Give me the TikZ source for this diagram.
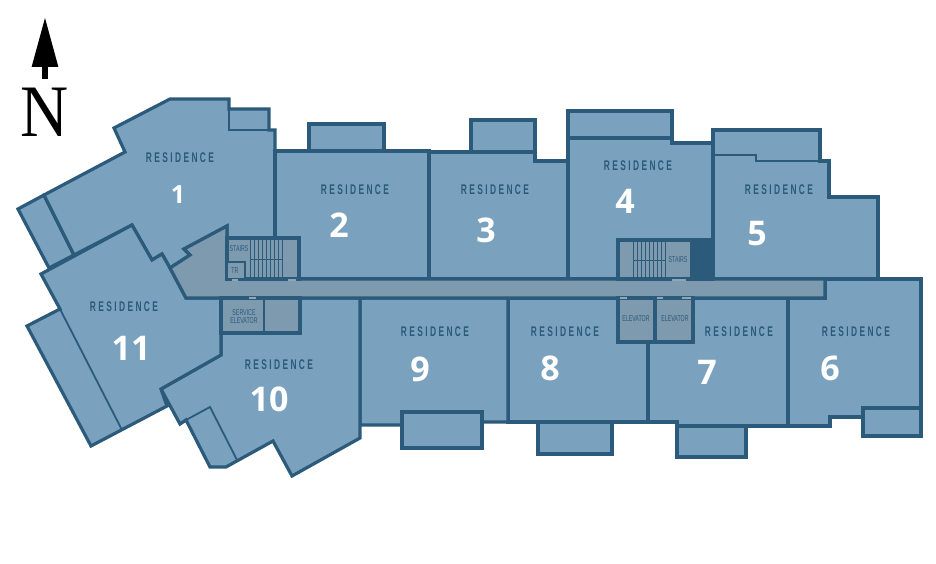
\documentclass[tikz,border=0pt]{standalone}
\usepackage{xcolor}
\usepackage{fontspec}
\usepackage{tikz}
\usetikzlibrary{arrows.meta}
\setmainfont{Liberation Serif}
\newfontfamily\planfont[FakeStretch=0.6,LetterSpace=17]{Liberation Sans}
\newfontfamily\tagfont[FakeStretch=0.62]{Liberation Sans}
\newfontfamily\numfont{Open Sans}
\definecolor{roomblue}{HTML}{7AA2BE}
\definecolor{wallblue}{HTML}{2B5A7A}
\definecolor{coregray}{HTML}{7E9AAF}
\definecolor{doorgray}{HTML}{8FA6B6}
\tikzstyle{room} = [fill=roomblue, draw=wallblue, line width=3.2pt, line join=miter]
\tikzstyle{core} = [fill=coregray, draw=wallblue, line width=3.2pt]
\tikzstyle{thinwall} = [draw=wallblue, line width=1.8pt]
\tikzstyle{tread} = [draw=wallblue, line width=0.6pt]
\tikzstyle{door} = [draw=doorgray, line width=2pt]
\tikzstyle{caption} = [text=wallblue, font=\planfont\bfseries\fontsize{14}{15}\selectfont, inner sep=0pt]
\tikzstyle{tag} = [text=wallblue, font=\tagfont\fontsize{8.5}{8.5}\selectfont, inner sep=0pt, align=center]
\tikzstyle{number} = [text=white, font=\numfont\bfseries\fontsize{34}{36}\selectfont, inner sep=0pt]
\begin{document}
\begin{tikzpicture}[x=1pt, y=-1pt]
	\useasboundingbox (0,0) rectangle (936,564);
	% balconies first
	\draw [room] (18,209) -- (44,195) -- (74,255) -- (49,268) -- cycle;
	\draw [room] (309,151) -- (309,124) -- (384,124) -- (384,151) -- cycle;
	\draw [room] (471,152) -- (471,120) -- (535,120) -- (535,152) -- cycle;
	\draw [room] (568,138) -- (568,111) -- (672,111) -- (672,138) -- cycle;
	% residences
	\draw [room] (114,128) -- (170,99) -- (229,99) -- (229,109) -- (269,109) -- (269,130) -- (275,130) -- (275,280) -- (227,280) -- (227,226) -- (184,249) -- (190,255) -- (170,268) -- (162,254) -- (152,260) -- (132,225) -- (74,255) -- (44,195) -- (125,152) -- cycle;
	\draw [room] (275,151) -- (429,151) -- (429,279) -- (275,279) -- cycle;
	\draw [room] (429,152) -- (535,152) -- (535,161) -- (568,161) -- (568,279) -- (429,279) -- cycle;
	\draw [room] (568,138) -- (672,138) -- (672,143) -- (713,143) -- (713,279) -- (568,279) -- cycle;
	\draw [room] (713,130) -- (820,130) -- (820,161) -- (829,161) -- (829,197) -- (878,197) -- (878,279) -- (713,279) -- cycle;
	\draw [room] (825,279) -- (921,279) -- (921,436) -- (863,436) -- (863,417) -- (830,417) -- (830,426) -- (788,426) -- (788,298) -- (825,298) -- cycle;
	\draw [room] (693,298) -- (788,298) -- (788,426) -- (677,426) -- (677,422) -- (648,422) -- (648,342) -- (693,342) -- cycle;
	\draw [room] (508,298) -- (618,298) -- (618,342) -- (648,342) -- (648,422) -- (508,422) -- cycle;
	\draw [room] (360,298) -- (508,298) -- (508,422) -- (482,422) -- (402,425) -- (360,425) -- cycle;
	\draw [room] (299,298) -- (360,298) -- (360,438) -- (292,476) -- (273,441) -- (226,467) -- (210,467) -- (186,420) -- (180,424) -- (161,389) -- (221,355) -- (221,333) -- (299,333) -- cycle;
	\draw [room] (41,274) -- (132,225) -- (152,260) -- (162,254) -- (170,268) -- (186,298) -- (221,298) -- (221,355) -- (161,389) -- (167,406) -- (91,446) -- (27,326) -- (60,309) -- cycle;
	% balconies on top of the lower walls
	\draw [room] (402,412) -- (482,412) -- (482,448) -- (402,448) -- cycle;
	\draw [room] (538,422) -- (612,422) -- (612,454) -- (538,454) -- cycle;
	\draw [room] (677,426) -- (746,426) -- (746,457) -- (677,457) -- cycle;
	\draw [room] (863,408) -- (921,408) -- (921,436) -- (863,436) -- cycle;
	\draw [thinwall] (60,309) -- (122,430);
	\draw [thinwall] (186,420) -- (210,407) -- (237,460);
	\draw [thinwall] (229,109) -- (229,130) -- (269,130);
	\draw [thinwall] (713,155) -- (756,155) -- (756,161) -- (820,161);
	% corridor and core
	\draw [core] (170,268) -- (190,255) -- (184,249) -- (227,226) -- (227,279) -- (825,279) -- (825,298) -- (186,298) -- cycle;
	\draw [core] (227,238) rectangle (299,279);
	\draw [core, line width=2.5pt] (227,262) rectangle (245,279);
	\draw [core] (221,298) rectangle (300,333);
	\draw [core] (618,240) rectangle (692,279);
	\draw [core] (618,298) rectangle (655,342);
	\draw [core] (655,298) rectangle (693,342);
	\draw [fill=wallblue, draw=wallblue, line width=3.2pt] (692,240) rectangle (713,279);
	\draw [thinwall] (264,298) -- (264,333);
	% stair treads
	\foreach \x in {250,254,...,283} {
		\draw [tread] (\x,240) -- (\x,278);
	}
	\foreach \x in {633,637,...,665} {
		\draw [tread] (\x,242) -- (\x,278);
	}
	\draw [tread] (250,259) -- (283,259);
	\draw [tread] (633,260) -- (665,260);
	% doors
	\draw [door] (232,280) -- (238,280);
	\draw [door] (288,280) -- (296,280);
	\draw [door] (249,298) -- (256,298);
	\draw [door] (672,280) -- (686,280);
	\draw [door] (620,298) -- (627,298);
	\draw [door] (682,298) -- (691,298);
	\draw [door] (657,298) -- (663,298);
	% labels
	\foreach \name/\x/\y in {1/180/158, 2/355/190, 3/495/190, 4/638/166, 5/779/190, 6/856/332, 7/739/332, 8/565/332, 9/435/332, 10/279/365, 11/124/307} {
		\node (Residence \name)[caption] at (\x,\y) {RESIDENCE};
	}
	\foreach \name/\x/\y in {2/339/225, 3/486/230, 4/625/201, 5/757/234, 6/830/368, 7/707/372, 8/550/368, 9/420/369, 10/269/399, 11/131/348} {
		\node (Number \name)[number] at (\x,\y) {\name};
	}
	\node (Number 1)[number, font=\numfont\bfseries\fontsize{25}{26}\selectfont] at (178,195) {1};
	\node (Stairs West)[tag] at (239,249) {STAIRS};
	\node (TR)[tag] at (235,271) {TR};
	\node (Service)[tag] at (244,316.5) {SERVICE\\ELEVATOR};
	\node (Stairs East)[tag] at (678,260) {STAIRS};
	\node (Elevator A)[tag] at (636,319) {ELEVATOR};
	\node (Elevator B)[tag] at (675,319) {ELEVATOR};
	% north mark
	\node (North)[inner sep=0pt, xscale=0.9, font=\fontsize{74}{74}\selectfont] at (45,112) {N};
	\coordinate (North Tip) at (45,17);
	\coordinate (North Tail) at (45,79);
	\draw [line width=6pt, -{Triangle[length=50pt, width=25pt]}] (North Tail) -- (North Tip);
\end{tikzpicture}
\end{document}
